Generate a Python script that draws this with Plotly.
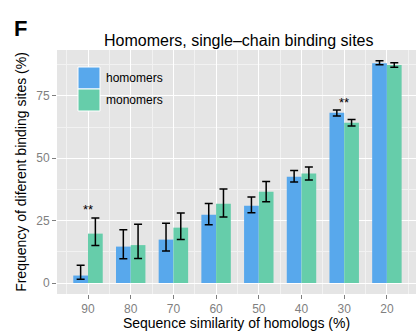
import plotly.graph_objects as go

categories = ["90", "80", "70", "60", "50", "40", "30", "20"]
homomers = [3.0, 14.6, 17.4, 27.4, 31.0, 42.6, 68.2, 88.1]
homomers_lo = [1.5, 9.7, 12.8, 23.4, 28.2, 40.5, 66.9, 87.5]
homomers_hi = [7.1, 21.4, 24.0, 31.9, 34.5, 45.1, 69.4, 89.1]
monomers = [19.8, 15.2, 22.2, 31.8, 36.6, 43.9, 64.2, 87.4]
monomers_lo = [15.0, 9.8, 17.4, 26.5, 32.6, 41.3, 62.9, 86.5]
monomers_hi = [26.1, 23.6, 28.1, 37.7, 40.7, 46.5, 65.5, 88.3]
signif = [("90", 30.7, "**"), ("30", 73.7, "**")]
yticks = [0, 25, 50, 75]

BLUE = "#58A8EC"
GREEN = "#66CDAA"
FONT = "Liberation Sans"

xs = list(range(len(categories)))

def err(vals, lo, hi):
    return dict(type="data", symmetric=False,
                array=[h - v for v, h in zip(vals, hi)],
                arrayminus=[v - l for v, l in zip(vals, lo)],
                color="black", thickness=1.5, width=4)

fig = go.Figure()
fig.add_trace(go.Bar(x=xs, y=homomers, name="homomers", marker_color=BLUE,
                     marker_line_width=0, error_y=err(homomers, homomers_lo, homomers_hi)))
fig.add_trace(go.Bar(x=xs, y=monomers, name="monomers", marker_color=GREEN,
                     marker_line_width=0, error_y=err(monomers, monomers_lo, monomers_hi)))

for cat, yv, txt in signif:
    fig.add_annotation(x=categories.index(cat), y=yv - 1.2, text=txt, showarrow=False,
                       font=dict(family=FONT, size=13, color="black"),
                       xanchor="center", yanchor="middle")

W, H = 416, 331
L, R, T, B = 57, 0, 50, 37
pw = W - L - R
ph = H - T - B

def px(x):
    return (x - L) / pw

def py(y):
    return (H - B - y) / ph

# legend drawn manually (large ggplot-style keys)
fig.add_shape(type="rect", xref="paper", yref="paper", x0=px(78), x1=px(100),
              y0=py(89), y1=py(67), fillcolor=BLUE, line=dict(color="white", width=1))
fig.add_shape(type="rect", xref="paper", yref="paper", x0=px(78), x1=px(100),
              y0=py(111), y1=py(89), fillcolor=GREEN, line=dict(color="white", width=1))
fig.add_annotation(xref="paper", yref="paper", x=px(104), y=py(78), text="homomers",
                   showarrow=False, xanchor="left", yanchor="middle",
                   font=dict(family=FONT, size=12, color="black"))
fig.add_annotation(xref="paper", yref="paper", x=px(104), y=py(100), text="monomers",
                   showarrow=False, xanchor="left", yanchor="middle",
                   font=dict(family=FONT, size=12, color="black"))

# title and panel letter
fig.add_annotation(xref="paper", yref="paper", x=px(238), y=py(40),
                   text="Homomers, single\u2013chain binding sites", showarrow=False,
                   xanchor="center", yanchor="middle",
                   font=dict(family=FONT, size=16, color="black"))
fig.add_annotation(xref="paper", yref="paper", x=px(20), y=py(28), text="<b>F</b>",
                   showarrow=False, xanchor="center", yanchor="middle",
                   font=dict(family=FONT, size=22, color="black"))

fig.update_layout(
    width=W, height=H,
    margin=dict(l=L, r=R, t=T, b=B, pad=0),
    paper_bgcolor="white", plot_bgcolor="#E5E5E5",
    barmode="group", bargap=0.31, bargroupgap=0,
    showlegend=False,
    font=dict(family=FONT),
)
fig.update_xaxes(
    range=[-0.726, (W - 88) / 42.7], tickmode="array", tickvals=xs, ticktext=categories,
    showgrid=True, gridcolor="white", gridwidth=1.3,
    minor=dict(tickmode="array", tickvals=[i - 0.5 for i in range(len(categories) + 1)],
               showgrid=True, gridcolor="#F2F2F2", gridwidth=0.6, ticks=""),
    ticks="outside", ticklen=4, tickcolor="#7F7F7F", tickwidth=1,
    tickfont=dict(family=FONT, size=12, color="#7F7F7F"),
    title=dict(text="Sequence similarity of homologs (%)", standoff=3,
               font=dict(family=FONT, size=14, color="black")),
    zeroline=False, showline=False, fixedrange=True,
)
fig.update_yaxes(
    range=[-4.4, 93.4], tickmode="array", tickvals=yticks,
    showgrid=True, gridcolor="white", gridwidth=1.3,
    minor=dict(tickmode="array", tickvals=[12.5, 37.5, 62.5, 87.5],
               showgrid=True, gridcolor="#F2F2F2", gridwidth=0.6, ticks=""),
    ticks="outside", ticklen=4, tickcolor="#7F7F7F", tickwidth=1,
    tickfont=dict(family=FONT, size=12, color="#7F7F7F"),
    title=dict(text="Frequency of diferent binding sites (%)", standoff=6,
               font=dict(family=FONT, size=14, color="black")),
    zeroline=False, showline=False, fixedrange=True,
)

fig.write_html("out.html")
